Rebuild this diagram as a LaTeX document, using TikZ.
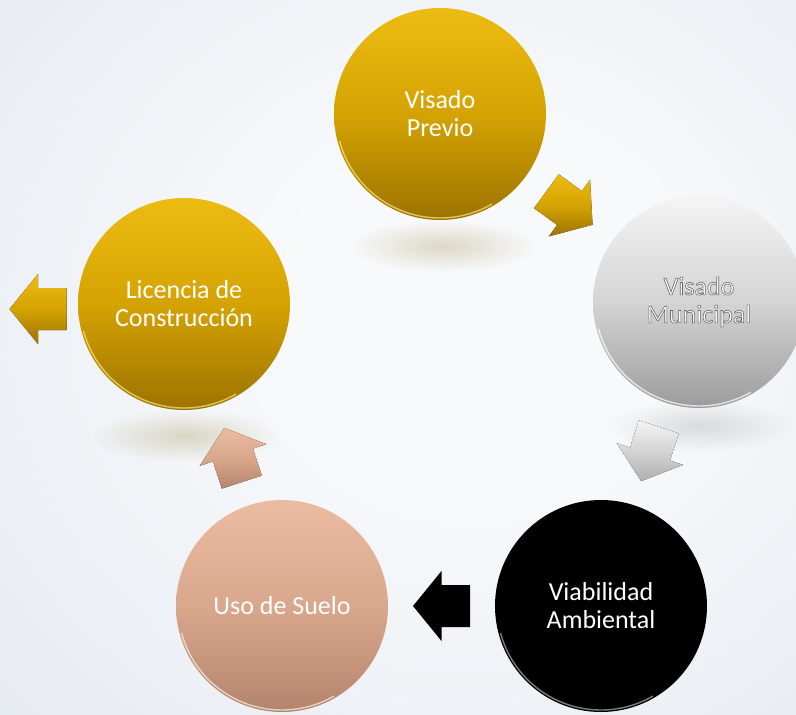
\documentclass[tikz,border=0pt]{standalone}
\usepackage{fontspec}
\setmainfont{Carlito}
\usetikzlibrary{fadings,calc}
\definecolor{bgin}{HTML}{F8F9FB}
\definecolor{bgmid}{HTML}{E6EBF1}
\definecolor{bgout}{HTML}{C3CFDD}
\definecolor{goldtop}{HTML}{EDBC12}
\definecolor{goldmid}{HTML}{D4A303}
\definecolor{goldbot}{HTML}{9C7300}
\definecolor{graytop}{HTML}{F4F4F4}
\definecolor{graymid}{HTML}{D4D4D4}
\definecolor{graybot}{HTML}{9C9C9C}
\definecolor{peachtop}{HTML}{EBBBA2}
\definecolor{peachmid}{HTML}{D9A78C}
\definecolor{peachbot}{HTML}{B3846D}
\definecolor{goldrim}{HTML}{FFE680}
\definecolor{reflgold}{HTML}{B4A878}
\pgfdeclareradialshading{bgshade}{\pgfpoint{6bp}{4bp}}{color(0bp)=(bgin); color(12bp)=(bgin); color(40bp)=(bgmid); color(72bp)=(bgout)}
\tikzfading[name=softspot, inner color=transparent!20, outer color=transparent!100]
\newcommand\outlinetext[1]{\special{pdf:literal direct 2 Tr 0.6 w 0.42 G 0.97 g}#1\special{pdf:literal direct 0 Tr}}
\newcommand\blockarrow[3]{\fill[#3, shift={(#1)}, rotate=#2] (-28.5pt,-21pt) -- (0pt,-21pt) -- (0pt,-35pt) -- (28.5pt,0pt) -- (0pt,35pt) -- (0pt,21pt) -- (-28.5pt,21pt) -- cycle;}
\newcommand\rimline[2]{\draw[#2, line width=1.4pt, opacity=0.7] (#1.center) ++(195:104pt) arc[start angle=195, end angle=300, radius=104pt];}
\begin{document}
\begin{tikzpicture}[x=1pt,y=-1pt,
  circ/.style={circle, minimum size=212pt, inner sep=0pt, align=center, font=\fontsize{26}{28}\selectfont},
  goldcirc/.style={circ, top color=goldtop, bottom color=goldbot, middle color=goldmid, text=white},
  graycirc/.style={circ, top color=graytop, bottom color=graybot, middle color=graymid, text=gray},
  blackcirc/.style={circ, fill=black, text=white},
  peachcirc/.style={circ, top color=peachtop, bottom color=peachbot, middle color=peachmid, text=white},
  goldarrow/.style={top color=goldtop, bottom color=goldbot, middle color=goldmid},
  grayarrow/.style={top color=graytop, bottom color=graybot!80!white, middle color=graymid},
  blackarrow/.style={fill=black},
  peacharrow/.style={top color=peachtop, bottom color=peachbot, middle color=peachmid},
  refl/.style={opacity=0.5, path fading=softspot}
]
\useasboundingbox (0,0) rectangle (796,715);
\shade[shading=bgshade] (0,0) rectangle (796,715);

% reflections
\fill[refl, fill=reflgold] (443,246) ellipse [x radius=95pt, y radius=26pt];
\fill[refl, fill=reflgold] (186,436) ellipse [x radius=95pt, y radius=26pt];
\fill[refl, fill=gray!60] (700,426) ellipse [x radius=95pt, y radius=26pt];

% circles
\node[goldcirc] (prev) at (440,114) {Visado\\Previo};
\node[graycirc] (mun) at (699,302) {\outlinetext{Visado}\\\outlinetext{Municipal}};
\node[blackcirc] (viab) at (601,606) {Viabilidad\\Ambiental};
\node[peachcirc] (uso) at (282,606) {Uso de Suelo};
\node[goldcirc] (lic) at (184,304) {Licencia de\\Construcción};

\rimline{prev}{goldrim}
\rimline{lic}{goldrim}
\rimline{mun}{white}
\rimline{viab}{gray!60}
\rimline{uso}{white!80!peachtop}

% arrows
\coordinate (out) at (38,309);
\blockarrow{$(prev)!0.5!(mun)$}{-36}{goldarrow}
\blockarrow{$(mun)!0.5!(viab)$}{-108}{grayarrow}
\blockarrow{$(viab)!0.5!(uso)$}{180}{blackarrow}
\blockarrow{$(uso)!0.5!(lic)$}{108}{peacharrow}
\blockarrow{out}{180}{goldarrow}
\end{tikzpicture}
\end{document}
